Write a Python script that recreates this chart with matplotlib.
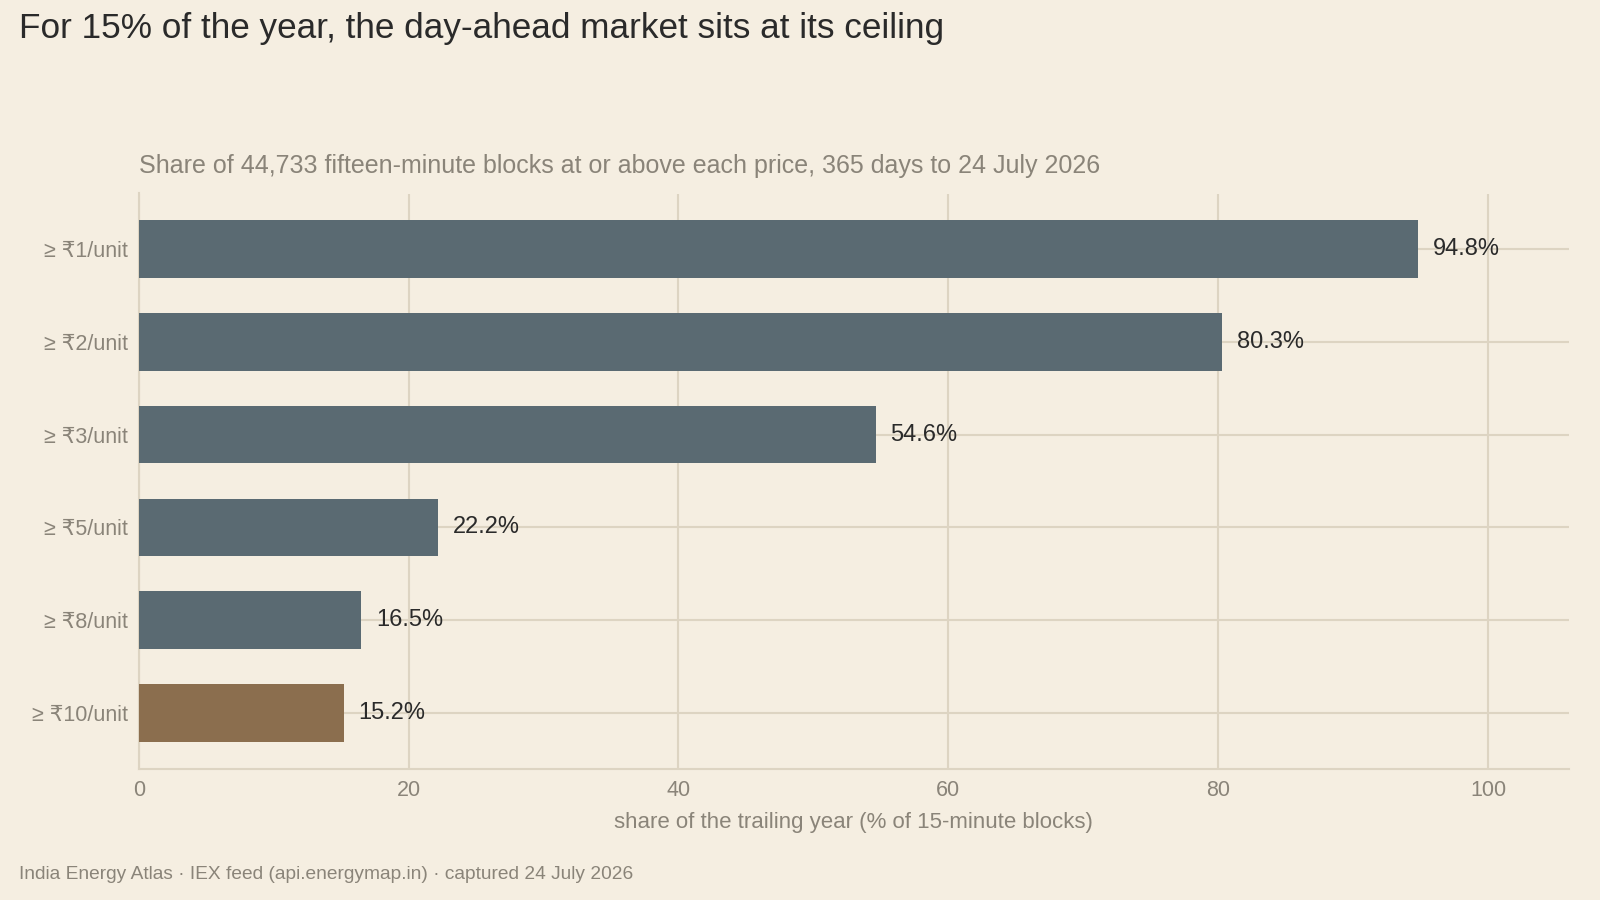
import matplotlib
matplotlib.use("Agg")
import matplotlib.pyplot as plt

# data
labels = ["≥ ₹1/unit", "≥ ₹2/unit", "≥ ₹3/unit", "≥ ₹5/unit", "≥ ₹8/unit", "≥ ₹10/unit"]
shares = [94.8, 80.3, 54.6, 22.2, 16.5, 15.2]
highlight = [False, False, False, False, False, True]
xticks = [0, 20, 40, 60, 80, 100]

BG = "#F5EEE1"
BAR = "#5A6A72"
HI = "#8B6E4E"
GRID = "#DDD4C2"
MUTED = "#8A8479"
DARK = "#2A2A2A"

plt.rcParams['font.family'] = ['Liberation Sans', 'DejaVu Sans']

fig = plt.figure(figsize=(16, 9), dpi=100, facecolor=BG)
ax = fig.add_axes([0.0867, 0.146, 0.894, 0.639], facecolor=BG)

ypos = list(range(len(labels)))
colors = [HI if h else BAR for h in highlight]
ax.barh(ypos, shares, height=0.62, color=colors, zorder=3)

for y, v in zip(ypos, shares):
    ax.text(v + 1.1, y, f"{v:.1f}%", va="center", ha="left",
            fontsize=17, color=DARK, zorder=4)

ax.set_xlim(0, 106)
ax.set_ylim(5.6, -0.6)
ax.set_yticks(ypos)
ax.set_yticklabels(labels, fontsize=15.5, color=MUTED)
ax.set_xticks(xticks)
ax.set_xticklabels([str(t) for t in xticks], fontsize=15.5, color=MUTED)
ax.tick_params(axis="both", length=0, pad=8)
ax.grid(True, color=GRID, linewidth=1.5, zorder=0)
for s in ["top", "right"]:
    ax.spines[s].set_visible(False)
ax.spines["left"].set_color(GRID)
ax.spines["bottom"].set_color(GRID)
ax.spines["left"].set_linewidth(1.5)
ax.spines["bottom"].set_linewidth(1.5)

ax.set_xlabel("share of the trailing year (% of 15-minute blocks)",
              fontsize=16, color=MUTED, labelpad=8)

fig.text(0.012, 0.968, "For 15% of the year, the day-ahead market sits at its ceiling",
         fontsize=25.3, color=DARK, ha="left", va="center")
fig.text(0.0867, 0.816, "Share of 44,733 fifteen-minute blocks at or above each price, 365 days to 24 July 2026",
         fontsize=18, color=MUTED, ha="left", va="center")
fig.text(0.012, 0.028, "India Energy Atlas · IEX feed (api.energymap.in) · captured 24 July 2026",
         fontsize=13.8, color=MUTED, ha="left", va="center")

fig.savefig("out.png", dpi=100, facecolor=BG)
